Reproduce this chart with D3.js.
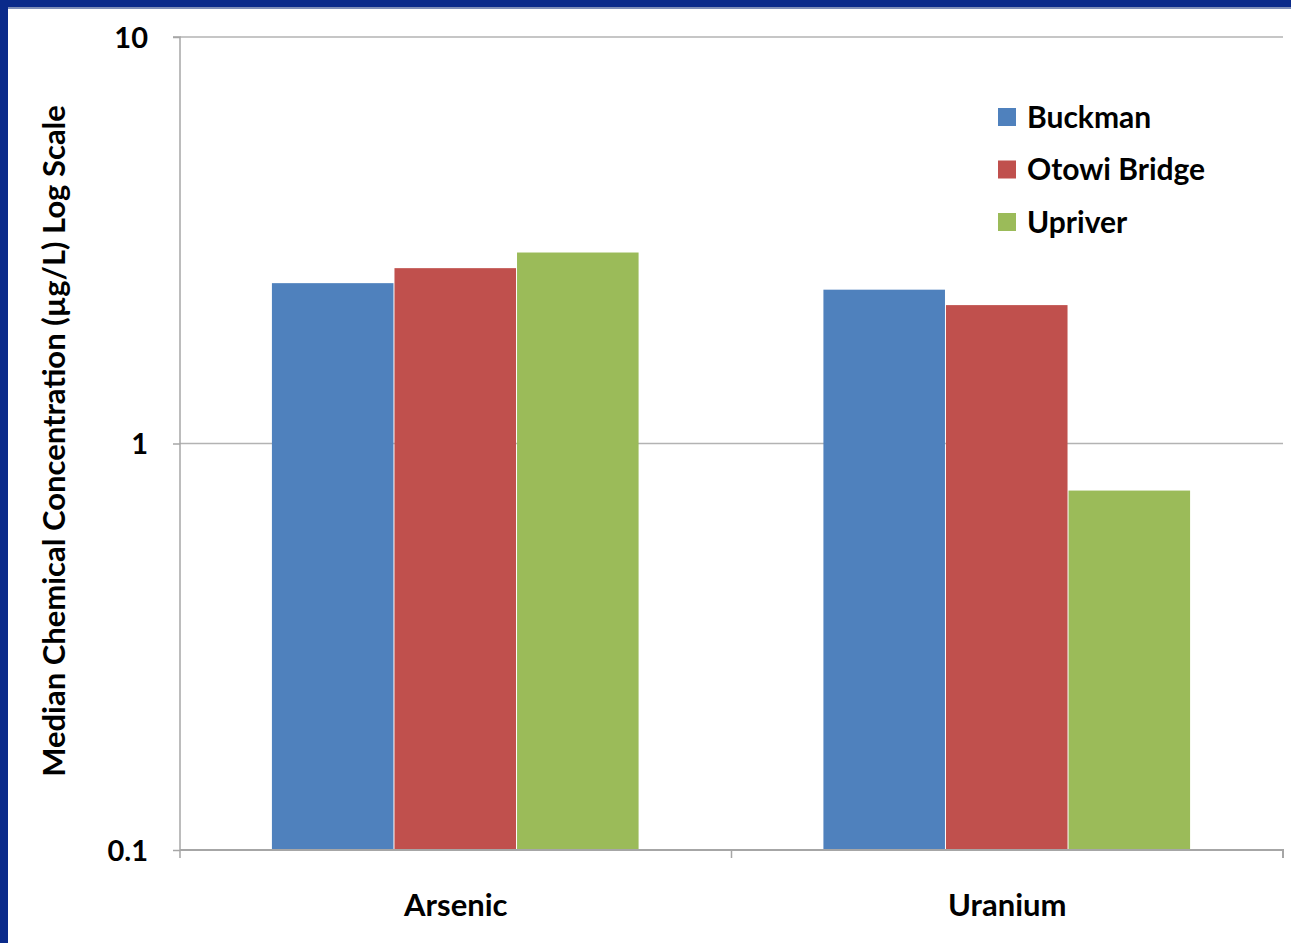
<!DOCTYPE html>
<html><head><meta charset="utf-8">
<script src="https://cdn.jsdelivr.net/npm/d3@7"></script>
<style>
body{margin:0;background:#fff;}
svg{display:block;}
text{font-family:Lato,"Open Sans",sans-serif;font-weight:bold;fill:#000;}
</style></head><body>
<svg id="c" width="1291" height="943"></svg>
<script>
const categories = ["Arsenic", "Uranium"];
const seriesNames = ["Buckman", "Otowi Bridge", "Upriver"];
const buckman = [2.48, 2.39];
const otowi = [2.70, 2.19];
const upriver = [2.95, 0.766];
const yTicks = [0.1, 1, 10];
const colors = ["#4f81bd", "#c0504d", "#9bbb59"];

const series = [buckman, otowi, upriver];
const svg = d3.select("#c");
// frame
svg.append("rect").attr("x",0).attr("y",0).attr("width",1291).attr("height",7).attr("fill","#0a2a8a");
svg.append("rect").attr("x",0).attr("y",0).attr("width",8).attr("height",943).attr("fill","#0a2a8a");
svg.append("rect").attr("x",8).attr("y",7).attr("width",1283).attr("height",2).attr("fill","#7f8fb8");

const L=180, R=1283, T=37, B=850;
const y = d3.scaleLog().domain([0.1,10]).range([B,T]);
const x0 = d3.scaleBand().domain(categories).range([L,R]).paddingInner(0).paddingOuter(0);
const x1 = d3.scaleBand().domain(seriesNames).range([0, x0.bandwidth()]).paddingInner(0).paddingOuter(0.75);

// gridlines
svg.append("g").selectAll("line").data(yTicks.slice(1)).join("line")
  .attr("x1",L).attr("x2",R).attr("y1",d=>y(d)).attr("y2",d=>y(d))
  .attr("stroke","#b3b3b3").attr("stroke-width",1.5);

// bars
categories.forEach((c,i)=>{
  series.forEach((s,j)=>{
    svg.append("rect")
      .attr("x", x0(c)+x1(seriesNames[j]))
      .attr("width", x1.bandwidth()-1)
      .attr("y", y(s[i]))
      .attr("height", B - y(s[i]))
      .attr("fill", colors[j]);
  });
});

// y axis
const ya = svg.append("g").attr("transform",`translate(${L},0)`)
  .call(d3.axisLeft(y).tickValues(yTicks).tickFormat(d3.format("~g")).tickSize(7).tickPadding(25));
ya.select(".domain").attr("stroke","#a6a6a6").attr("stroke-width",1.5).attr("d",`M-7,${T}H0V${B+8}`);
ya.selectAll(".tick line").attr("stroke","#a6a6a6").attr("stroke-width",1.5);
ya.selectAll(".tick text").style("font-size","29px").attr("dy","0.36em").attr("fill","#000");

// x axis
const xa = svg.append("g").attr("transform",`translate(0,${B})`)
  .call(d3.axisBottom(x0).tickSize(0).tickPadding(44));
xa.select(".domain").attr("stroke","#a6a6a6").attr("stroke-width",2).attr("d",`M${L},0H${R}V8`);
xa.selectAll(".tick text").style("font-size","31px").attr("fill","#000");
svg.append("line").attr("x1",x0("Uranium")).attr("x2",x0("Uranium")).attr("y1",B).attr("y2",B+8)
  .attr("stroke","#a6a6a6").attr("stroke-width",1.5);

// y title
svg.append("text").attr("transform","translate(65,441) rotate(-90)")
  .attr("text-anchor","middle").style("font-size","31px")
  .text("Median Chemical Concentration (µg/L) Log Scale");

// legend
const lg = svg.append("g").attr("transform","translate(998,108)");
seriesNames.forEach((n,i)=>{
  const g = lg.append("g").attr("transform",`translate(0,${i*52.5})`);
  g.append("rect").attr("width",18).attr("height",18).attr("fill",colors[i]);
  g.append("text").attr("x",29).attr("y",9).attr("dy","0.36em").style("font-size","30px").text(n);
});
</script>
</body></html>
